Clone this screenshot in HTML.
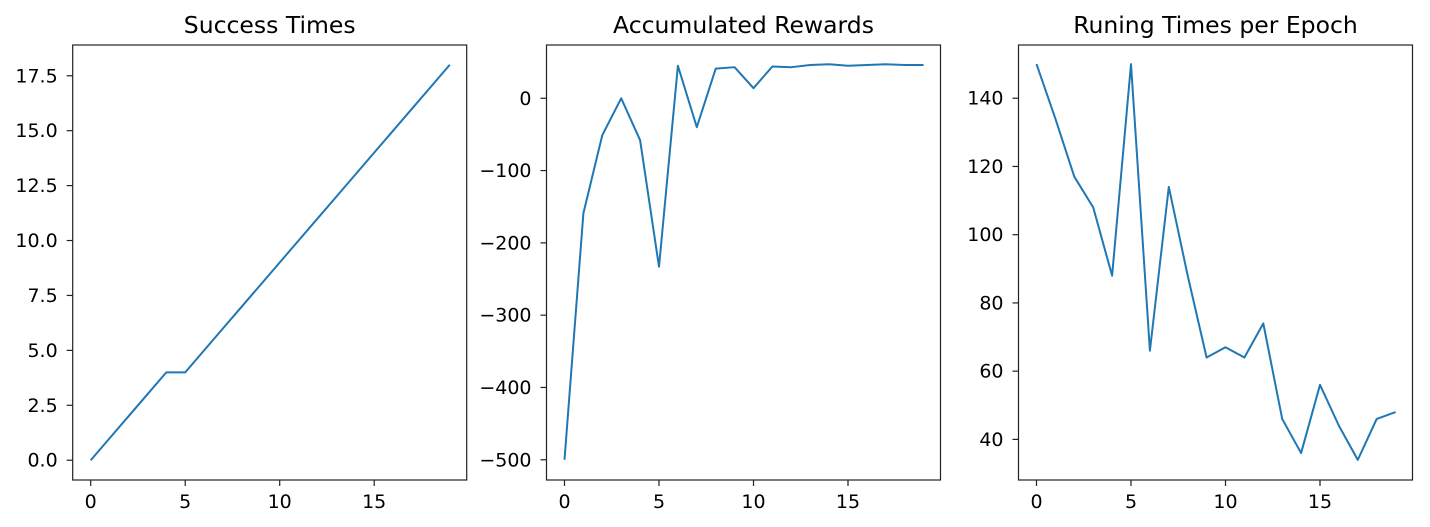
<!DOCTYPE html>
<html><head><meta charset="utf-8"><style>
html,body{margin:0;padding:0;background:#fff;}
svg{display:block;font-family:"DejaVu Sans","Liberation Sans",sans-serif;}
</style></head><body>
<svg id="fig" width="1430" height="527"></svg>
<script>
const epochs = [0,1,2,3,4,5,6,7,8,9,10,11,12,13,14,15,16,17,18,19];
const successTimes = [0,1,2,3,4,4,5,6,7,8,9,10,11,12,13,14,15,16,17,18];
const accRewards = [-500,-159,-51,0,-58,-233,45,-40,41,43,14,44,43,46,47,45,46,47,46,46];
const runTimes = [150,134,117,108,88,150,66,114,88,64,67,64,74,46,36,56,44,34,46,48];
const xTicks = [0,5,10,15];
const ticks1 = [0,2.5,5,7.5,10,12.5,15,17.5];
const ticks1Labels = ["0.0","2.5","5.0","7.5","10.0","12.5","15.0","17.5"];
const ticks2 = [-500,-400,-300,-200,-100,0];
const ticks2Labels = ["\u2212500","\u2212400","\u2212300","\u2212200","\u2212100","0"];
const ticks3 = [40,60,80,100,120,140];
const ticks3Labels = ["40","60","80","100","120","140"];

const NS="http://www.w3.org/2000/svg";
const svg=document.getElementById('fig');
function mk(tag,attrs,parent){const e=document.createElementNS(NS,tag);for(const k in attrs)e.setAttribute(k,attrs[k]);(parent||svg).appendChild(e);return e;}

const panels=[
 {left:72.7,title:"Success Times",data:successTimes,ymin:-0.9,ymax:18.9,ticks:ticks1,labels:ticks1Labels,name:"success-times"},
 {left:546.5,title:"Accumulated Rewards",data:accRewards,ymin:-528,ymax:73.7,ticks:ticks2,labels:ticks2Labels,name:"accumulated-rewards"},
 {left:1018.5,title:"Runing Times per Epoch",data:runTimes,ymin:28.1,ymax:155.6,ticks:ticks3,labels:ticks3Labels,name:"running-times"}
];
const W=394, plotTop=45, plotBottom=480;
panels.forEach(p=>{
  const g=mk('g',{});
  
  
  const xs=v=>p.left+18+(v)*18.9;
  const ys=v=>plotBottom-(v-p.ymin)/(p.ymax-p.ymin)*(plotBottom-plotTop);
  const t=mk('text',{x:p.left+W/2,y:33,'text-anchor':'middle','font-size':'23.5',fill:'#000'},g);
  t.textContent=p.title;
  
  
  xTicks.forEach(v=>{
    mk('line',{x1:xs(v),x2:xs(v),y1:plotBottom,y2:plotBottom+6,stroke:'#222','stroke-width':1.2},g);
    const l=mk('text',{x:xs(v),y:508,'text-anchor':'middle','font-size':'19',fill:'#000'},g);
    l.textContent=v;
    
    
  });
  p.ticks.forEach((v,i)=>{
    mk('line',{x1:p.left-6,x2:p.left,y1:ys(v),y2:ys(v),stroke:'#222','stroke-width':1.2},g);
    const l=mk('text',{x:p.left-15,y:ys(v)+6.5,'text-anchor':'end','font-size':'19',fill:'#000'},g);
    l.textContent=p.labels[i];
    
    
  });
  const pts=p.data.map((v,i)=>xs(epochs[i]).toFixed(2)+','+ys(v).toFixed(2)).join(' ');
  const pl=mk('polyline',{points:pts,fill:'none',stroke:'#1f77b4','stroke-width':2,'stroke-linejoin':'round'},g);
  
  
  const r=mk('rect',{x:p.left,y:plotTop,width:W,height:plotBottom-plotTop,fill:'none',stroke:'#222','stroke-width':1.2},g);
  
  
});
</script>
</body></html>
